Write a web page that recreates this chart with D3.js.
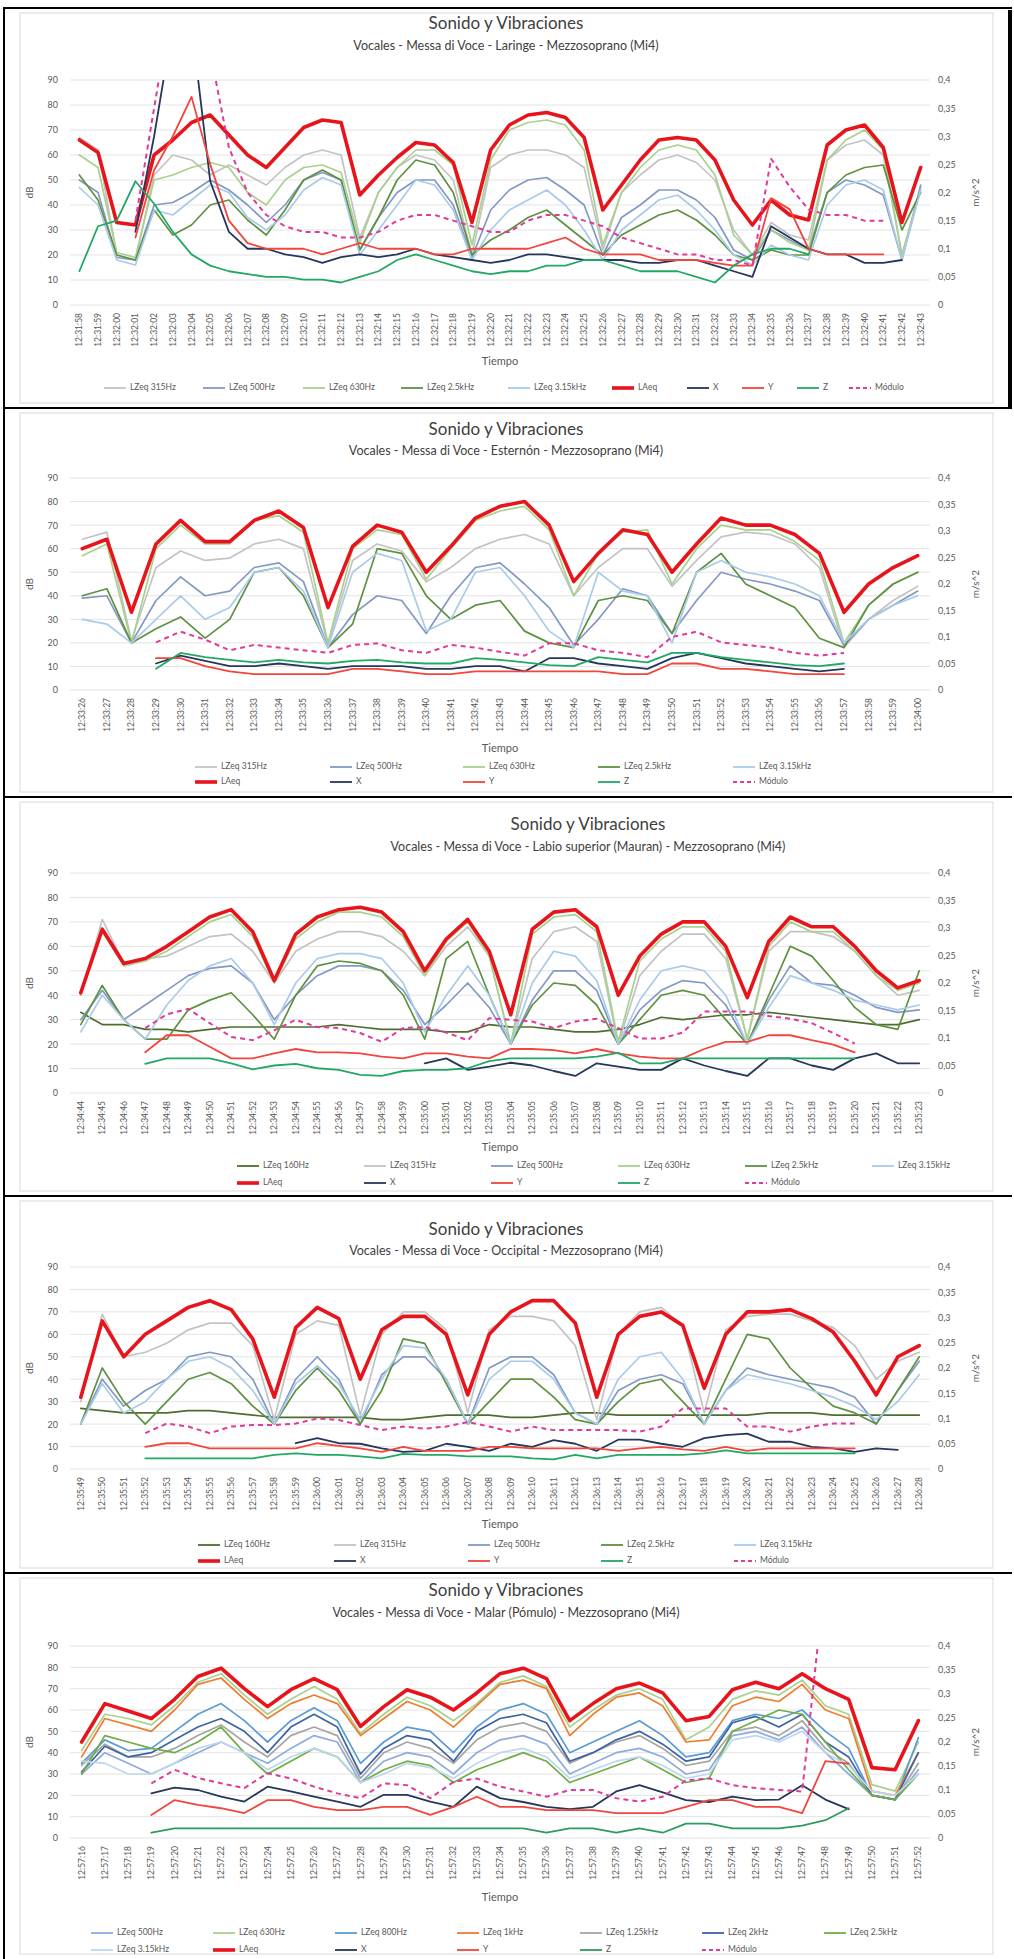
<!DOCTYPE html>
<html><head><meta charset="utf-8">
<script src="https://cdn.jsdelivr.net/npm/d3@7/dist/d3.min.js"></script>
<style>html,body{margin:0;padding:0;background:#fff}</style>
</head><body>
<svg id="chart" width="1014" height="1959" xmlns="http://www.w3.org/2000/svg"></svg>
<script>
// ---------------- DATA ----------------
const p1Times = ["12:31:58","12:31:59","12:32:00","12:32:01","12:32:02","12:32:03","12:32:04","12:32:05","12:32:06","12:32:07","12:32:08","12:32:09","12:32:10","12:32:11","12:32:12","12:32:13","12:32:14","12:32:15","12:32:16","12:32:17","12:32:18","12:32:19","12:32:20","12:32:21","12:32:22","12:32:23","12:32:24","12:32:25","12:32:26","12:32:27","12:32:28","12:32:29","12:32:30","12:32:31","12:32:32","12:32:33","12:32:34","12:32:35","12:32:36","12:32:37","12:32:38","12:32:39","12:32:40","12:32:41","12:32:42","12:32:43"];
const p1_L315  = [67,62,20,18,52,60,58,52,56,52,48,55,60,62,60,27,45,55,60,58,50,20,55,60,62,62,60,55,22,45,52,58,60,57,50,30,20,33,28,26,58,64,66,60,20,47];
const p1_L500  = [50,45,19,18,40,41,45,50,46,40,33,40,50,53,50,22,35,45,50,50,40,19,38,46,50,51,46,40,20,35,40,46,46,42,35,22,18,30,26,22,45,50,48,44,18,48];
const p1_L630  = [60,55,21,19,50,52,55,57,55,45,40,50,55,56,53,25,45,55,62,62,56,24,58,70,73,74,72,62,24,45,55,62,64,62,52,28,20,30,25,22,58,66,70,62,20,46];
const p1_L2500 = [52,42,20,18,38,28,32,40,42,34,28,38,50,54,50,22,35,50,58,56,45,20,26,30,35,38,32,26,20,28,32,36,38,34,28,20,18,22,20,20,45,52,55,56,30,45];
const p1_L3150 = [47,40,18,16,38,36,42,48,45,35,30,36,46,51,48,20,30,40,50,48,38,18,30,38,42,46,40,30,18,30,36,42,44,38,30,20,16,24,20,18,40,48,50,46,18,46];
const p1_LAeq  = [66,61,33,32,60,66,73,76,68,60,55,63,71,74,73,44,52,59,65,64,57,33,62,72,76,77,75,67,38,48,58,66,67,66,58,42,32,42,36,34,64,70,72,63,33,55];
const p1_X = [null,null,null,0.13,0.3,0.5,0.5,0.22,0.13,0.1,0.1,0.09,0.085,0.075,0.085,0.09,0.085,0.09,0.1,0.09,0.085,0.08,0.075,0.08,0.09,0.09,0.085,0.08,0.08,0.08,0.075,0.075,0.08,0.08,0.07,0.06,0.05,0.14,0.12,0.1,0.09,0.09,0.075,0.075,0.08,null];
const p1_Y = [null,null,null,0.12,0.24,0.3,0.37,0.25,0.15,0.11,0.1,0.1,0.1,0.09,0.1,0.11,0.1,0.1,0.1,0.09,0.09,0.1,0.1,0.1,0.1,0.11,0.12,0.1,0.09,0.09,0.09,0.08,0.08,0.08,0.075,0.07,0.07,0.19,0.17,0.1,0.09,0.09,0.09,0.09,null,null];
const p1_Z = [0.06,0.14,0.15,0.22,0.18,0.13,0.09,0.07,0.06,0.055,0.05,0.05,0.045,0.045,0.04,0.05,0.06,0.08,0.09,0.08,0.07,0.06,0.055,0.06,0.06,0.07,0.07,0.08,0.08,0.07,0.06,0.06,0.06,0.05,0.04,0.07,0.09,0.1,0.1,0.09,null,null,null,null,null,null];
const p1_Mod = [null,null,null,0.15,0.35,0.55,0.6,0.45,0.28,0.2,0.16,0.14,0.13,0.13,0.12,0.12,0.13,0.15,0.16,0.16,0.15,0.14,0.13,0.13,0.15,0.16,0.16,0.15,0.14,0.12,0.11,0.1,0.09,0.09,0.08,0.08,0.07,0.26,0.21,0.17,0.16,0.16,0.15,0.15,null,null];

const p2Times = ["12:33:26","12:33:27","12:33:28","12:33:29","12:33:30","12:33:31","12:33:32","12:33:33","12:33:34","12:33:35","12:33:36","12:33:37","12:33:38","12:33:39","12:33:40","12:33:41","12:33:42","12:33:43","12:33:44","12:33:45","12:33:46","12:33:47","12:33:48","12:33:49","12:33:50","12:33:51","12:33:52","12:33:53","12:33:54","12:33:55","12:33:56","12:33:57","12:33:58","12:33:59","12:34:00"];
const p2_L315  = [64,67,21,52,59,55,56,62,64,60,19,55,62,59,46,52,60,64,66,62,40,52,60,60,44,55,65,67,66,62,52,18,30,38,44];
const p2_L500  = [39,40,20,38,48,40,42,52,54,46,18,32,40,38,24,40,52,54,45,35,19,30,43,40,24,38,50,47,45,42,38,19,30,36,42];
const p2_L630  = [57,62,20,60,70,62,62,72,74,67,20,60,68,66,47,60,72,76,78,68,40,58,67,68,45,60,70,68,68,63,55,20,36,45,50];
const p2_L2500 = [40,43,20,26,31,22,30,50,52,40,18,28,60,58,40,30,36,38,25,20,18,38,40,38,24,50,58,45,40,35,22,18,36,45,50];
const p2_L3150 = [30,28,20,30,40,30,35,50,52,42,18,50,58,55,25,30,50,52,40,25,18,50,42,40,20,50,55,50,48,45,40,20,30,36,40];
const p2_LAeq  = [60,64,33,62,72,63,63,72,76,69,35,61,70,67,50,61,73,78,80,70,46,58,68,66,50,62,73,70,70,66,58,33,45,52,57];
const p2_X = [null,null,null,0.05,0.065,0.055,0.045,0.045,0.05,0.045,0.04,0.045,0.045,0.045,0.04,0.04,0.045,0.045,0.035,0.06,0.06,0.05,0.045,0.04,0.06,0.07,0.06,0.05,0.045,0.04,0.035,0.04,null,null,null];
const p2_Y = [null,null,null,0.06,0.06,0.045,0.035,0.03,0.03,0.03,0.03,0.04,0.04,0.035,0.03,0.03,0.035,0.035,0.035,0.035,0.035,0.035,0.03,0.03,0.05,0.05,0.04,0.04,0.035,0.03,0.03,0.03,null,null,null];
const p2_Z = [null,null,null,0.04,0.07,0.062,0.057,0.052,0.057,0.052,0.05,0.055,0.057,0.052,0.05,0.05,0.06,0.057,0.052,0.047,0.045,0.062,0.057,0.052,0.07,0.07,0.062,0.057,0.052,0.047,0.045,0.05,null,null,null];
const p2_Mod = [null,null,null,0.09,0.11,0.095,0.075,0.085,0.08,0.075,0.07,0.085,0.088,0.075,0.07,0.085,0.08,0.072,0.065,0.088,0.088,0.075,0.07,0.062,0.1,0.11,0.09,0.085,0.08,0.07,0.065,0.07,null,null,null];

const p3Times = ["12:34:44","12:34:45","12:34:46","12:34:47","12:34:48","12:34:49","12:34:50","12:34:51","12:34:52","12:34:53","12:34:54","12:34:55","12:34:56","12:34:57","12:34:58","12:34:59","12:35:00","12:35:01","12:35:02","12:35:03","12:35:04","12:35:05","12:35:06","12:35:07","12:35:08","12:35:09","12:35:10","12:35:11","12:35:12","12:35:13","12:35:14","12:35:15","12:35:16","12:35:17","12:35:18","12:35:19","12:35:20","12:35:21","12:35:22","12:35:23"];
const p3_L160  = [33,28,28,26,26,25,26,27,27,27,27,27,28,27,26,26,26,25,25,28,27,27,26,25,25,26,28,31,30,31,32,32,33,32,31,30,29,28,28,30];
const p3_L315  = [40,71,53,55,56,60,64,65,58,45,58,63,66,66,64,58,48,60,68,56,20,55,66,68,62,20,48,58,65,65,55,22,58,66,66,64,58,48,40,42];
const p3_L500  = [30,42,30,36,42,48,51,52,45,30,40,48,52,52,50,42,28,36,45,35,20,38,50,50,42,20,34,42,46,45,36,20,38,52,45,44,40,35,33,34];
const p3_L630  = [40,66,52,54,58,64,70,73,64,45,63,70,74,74,72,64,48,62,70,56,20,65,72,73,66,21,54,63,68,68,58,22,60,70,66,66,58,48,42,45];
const p3_L2500 = [28,44,30,22,22,34,38,41,32,22,40,52,54,53,50,40,22,55,62,40,20,36,45,44,36,20,30,40,42,40,30,20,40,60,56,46,35,28,26,50];
const p3_L3150 = [25,40,30,22,36,46,52,55,45,28,45,55,57,57,55,45,25,40,52,40,20,45,58,56,46,20,38,50,52,50,40,20,35,48,45,42,38,36,34,36];
const p3_LAeq  = [41,67,53,55,60,66,72,75,66,46,65,72,75,76,74,66,50,63,71,58,32,67,74,75,68,40,56,65,70,70,60,39,62,72,68,68,60,50,43,46];
const p3_X = [null,null,null,null,null,null,null,null,null,null,null,null,null,null,null,null,0.054,0.063,0.042,0.048,0.055,0.05,0.04,0.031,0.054,0.048,0.042,0.042,0.063,0.05,0.04,0.031,0.063,0.063,0.05,0.042,0.063,0.072,0.054,0.054];
const p3_Y = [null,null,null,0.074,0.105,0.105,0.084,0.063,0.063,0.072,0.08,0.074,0.074,0.072,0.066,0.063,0.072,0.072,0.066,0.063,0.08,0.08,0.078,0.072,0.08,0.072,0.066,0.063,0.063,0.08,0.093,0.093,0.105,0.105,0.096,0.088,0.074,null,null,null];
const p3_Z = [null,null,null,0.053,0.063,0.063,0.063,0.054,0.043,0.05,0.053,0.045,0.042,0.033,0.031,0.04,0.042,0.042,0.045,0.058,0.063,0.063,0.063,0.063,0.066,0.073,0.054,0.054,0.063,0.063,0.063,0.063,0.063,0.063,0.063,0.063,0.063,null,null,null];
const p3_Mod = [null,null,null,0.118,0.143,0.153,0.127,0.102,0.096,0.114,0.133,0.12,0.118,0.109,0.093,0.118,0.12,0.11,0.096,0.136,0.133,0.13,0.118,0.13,0.135,0.118,0.099,0.099,0.11,0.148,0.148,0.148,0.14,0.135,0.127,0.109,0.09,null,null,null];

const p4Times = ["12:35:49","12:35:50","12:35:51","12:35:52","12:35:53","12:35:54","12:35:55","12:35:56","12:35:57","12:35:58","12:35:59","12:36:00","12:36:01","12:36:02","12:36:03","12:36:04","12:36:05","12:36:06","12:36:07","12:36:08","12:36:09","12:36:10","12:36:11","12:36:12","12:36:13","12:36:14","12:36:15","12:36:16","12:36:17","12:36:18","12:36:19","12:36:20","12:36:21","12:36:22","12:36:23","12:36:24","12:36:25","12:36:26","12:36:27","12:36:28"];
const p4_L160  = [27,26,25,25,25,26,26,25,24,23,23,23,23,23,22,22,23,24,24,24,23,23,24,25,25,24,24,24,24,24,24,24,25,25,25,24,24,24,24,24];
const p4_L315  = [30,69,50,52,56,62,65,65,55,22,60,66,64,24,60,70,70,62,25,62,68,68,66,55,22,60,70,72,64,25,62,68,69,69,66,63,55,40,48,52];
const p4_L500  = [20,40,28,35,40,50,52,50,40,20,40,50,40,20,42,50,50,40,20,45,50,50,42,25,20,35,40,42,38,20,35,45,42,40,38,36,32,20,35,48];
const p4_L2500 = [20,45,30,20,30,40,43,38,28,20,35,45,35,20,35,58,56,38,20,30,40,40,32,22,20,30,38,40,30,20,40,60,58,45,36,28,25,20,35,50];
const p4_L3150 = [20,38,25,30,40,48,50,45,35,20,38,46,38,22,40,55,54,40,20,40,48,48,40,25,20,40,50,52,40,20,35,42,40,38,35,32,28,22,30,42];
const p4_LAeq  = [32,66,50,60,66,72,75,71,58,32,63,72,67,40,62,68,68,60,33,60,70,75,75,65,32,60,68,70,64,36,60,70,70,71,67,61,48,33,50,55];
const p4_X = [null,null,null,null,null,null,null,null,null,null,0.051,0.061,0.051,0.05,0.041,0.034,0.036,0.05,0.044,0.036,0.05,0.044,0.057,0.05,0.036,0.058,0.058,0.05,0.044,0.061,0.067,0.07,0.054,0.054,0.044,0.041,0.034,0.041,0.038,null];
const p4_Y = [null,null,null,0.044,0.051,0.051,0.041,0.041,0.041,0.041,0.041,0.051,0.046,0.041,0.034,0.044,0.036,0.036,0.036,0.044,0.044,0.041,0.041,0.041,0.041,0.036,0.041,0.044,0.039,0.036,0.044,0.036,0.041,0.041,0.041,0.041,0.041,null,null,null];
const p4_Z = [null,null,null,0.021,0.021,0.021,0.021,0.021,0.021,0.028,0.031,0.028,0.028,0.025,0.021,0.03,0.028,0.028,0.025,0.025,0.025,0.021,0.019,0.028,0.021,0.028,0.028,0.028,0.028,0.031,0.037,0.031,0.031,0.031,0.031,0.031,0.031,null,null,null];
const p4_Mod = [null,null,null,0.071,0.09,0.084,0.071,0.084,0.087,0.087,0.09,0.1,0.097,0.087,0.077,0.084,0.08,0.084,0.093,0.084,0.074,0.084,0.077,0.077,0.077,0.077,0.074,0.084,0.12,0.12,0.12,0.084,0.084,0.074,0.084,0.09,0.09,null,null,null];

const p5Times = ["12:57:16","12:57:17","12:57:18","12:57:19","12:57:20","12:57:21","12:57:22","12:57:23","12:57:24","12:57:25","12:57:26","12:57:27","12:57:28","12:57:29","12:57:30","12:57:31","12:57:32","12:57:33","12:57:34","12:57:35","12:57:36","12:57:37","12:57:38","12:57:39","12:57:40","12:57:41","12:57:42","12:57:43","12:57:44","12:57:45","12:57:46","12:57:47","12:57:48","12:57:49","12:57:50","12:57:51","12:57:52"];
const p5_L500  = [30,40,35,30,35,40,45,40,35,42,48,45,26,36,40,38,30,40,46,48,44,30,35,40,42,38,30,32,48,50,46,52,40,30,20,18,32];
const p5_L630  = [41,58,56,53,62,73,77,67,58,65,71,65,49,58,66,62,55,63,73,76,71,52,60,67,70,65,46,52,65,69,67,74,62,58,25,22,45];
const p5_L800  = [35,46,41,42,50,58,63,55,45,55,61,55,35,45,52,50,40,52,60,63,58,40,45,50,55,48,38,40,55,58,56,60,50,42,20,18,47];
const p5_L1k   = [38,56,53,50,60,72,75,65,56,63,67,63,48,56,64,60,52,62,72,74,70,48,58,66,68,62,45,46,62,66,64,72,60,56,22,20,40];
const p5_L1250 = [34,44,38,38,42,48,53,45,38,48,52,48,28,40,45,42,35,46,52,54,50,35,40,45,48,42,34,36,50,52,48,55,42,35,20,18,35];
const p5_L2k   = [31,43,38,40,46,52,56,50,40,52,58,52,30,42,48,46,36,50,56,58,54,36,40,46,50,44,36,38,54,57,52,58,45,38,20,18,40];
const p5_L2500 = [30,48,45,42,40,45,52,40,30,36,42,38,26,32,36,34,26,32,36,40,36,26,30,34,38,32,26,28,50,55,60,58,45,32,20,18,30];
const p5_L3150 = [36,35,30,30,35,42,45,40,32,38,42,38,26,30,35,33,28,35,40,42,38,28,32,36,38,34,28,30,46,48,45,50,40,34,22,20,30];
const p5_LAeq  = [45,63,59.5,56,65,75.7,79.6,70,61.6,69.5,74.7,69.5,52.3,61.6,69.5,66,60,68,77,79.6,74.7,55,63,70,72.6,68,55,57,69.5,73,70,77,70,65,33,32,55];
const p5_X = [null,null,null,0.093,0.105,0.1,0.086,0.076,0.107,0.097,0.086,0.076,0.065,0.09,0.09,0.076,0.065,0.107,0.083,0.075,0.065,0.06,0.065,0.097,0.11,0.095,0.079,0.075,0.086,0.079,0.08,0.11,0.08,0.06,null,null,null];
const p5_Y = [null,null,null,0.048,0.079,0.069,0.062,0.052,0.079,0.079,0.065,0.058,0.058,0.065,0.065,0.048,0.065,0.086,0.065,0.065,0.058,0.058,0.058,0.052,0.052,0.052,0.065,0.079,0.079,0.065,0.065,0.052,0.16,0.155,null,null,null];
const p5_Z = [null,null,null,0.011,0.02,0.02,0.02,0.02,0.02,0.02,0.02,0.02,0.02,0.02,0.02,0.02,0.02,0.02,0.02,0.02,0.011,0.02,0.02,0.011,0.02,0.011,0.03,0.03,0.02,0.02,0.02,0.026,0.037,0.062,null,null,null];
const p5_Mod = [null,null,null,0.114,0.142,0.125,0.114,0.104,0.135,0.124,0.107,0.093,0.083,0.114,0.11,0.083,0.117,0.124,0.107,0.097,0.086,0.1,0.1,0.083,0.076,0.086,0.12,0.124,0.11,0.104,0.1,0.097,0.55,null,null,null,null];

const dBTicks = [0,10,20,30,40,50,60,70,80,90];
const msTicks = [0,0.05,0.1,0.15,0.2,0.25,0.3,0.35,0.4];

// ---------------- STYLE ----------------
const FONT = "Lato, 'Open Sans', 'Liberation Sans', Arial, sans-serif";
const COL = {
  L160:"#4f6d2f", L315:"#c3c3c3", L500:"#8399c4", L630:"#a9d18e", L2500:"#5f9140", L3150:"#a9cbe9",
  LAeq:"#e8141b", X:"#25375a", Y:"#f2453d", Z:"#22a865", Mod:"#e03a9c",
  P5L500:"#8faadc", P5L800:"#5b9bd5", P5L1k:"#ed7d31", P5L1250:"#a5a5a5", P5L2k:"#3d64a0", P5L2500:"#70ad47", P5L3150:"#bdd7ee", P5Z:"#2e9a5e"
};
const svg = d3.select("#chart");
const X0 = 70, X1 = 930;

function S(name, data, color, axis, opts){ return Object.assign({name, data, color, axis, w:1.7, dash:null}, opts||{}); }
function vib(X,Y,Z,M,zc){ return [
  S("X", X, COL.X, "R", {w:1.8}),
  S("Y", Y, COL.Y, "R", {w:1.8}),
  S("Z", Z, zc||COL.Z, "R", {w:1.8}),
  S("Módulo", M, COL.Mod, "R", {w:2, dash:"5,4"})
];}
const LA = d => S("LAeq", d, COL.LAeq, "L", {w:3.6});

const panels = [
 { top:8, bottom:408, title:"Sonido y Vibraciones", sub:"Vocales - Messa di Voce - Laringe - Mezzosoprano (Mi4)", tx:506,
   ty:25, sy:47, y90:80, y0:305, tiempo:362, times:p1Times,
   series:[S("LZeq 315Hz",p1_L315,COL.L315,"L"),S("LZeq 500Hz",p1_L500,COL.L500,"L"),S("LZeq 630Hz",p1_L630,COL.L630,"L"),
           S("LZeq 2.5kHz",p1_L2500,COL.L2500,"L"),S("LZeq 3.15kHz",p1_L3150,COL.L3150,"L"),LA(p1_LAeq),...vib(p1_X,p1_Y,p1_Z,p1_Mod)],
   legend:{cols:[104,203,303,401,508,612,687,742,797,849], rows:[388], perRow:10} },
 { top:408, bottom:797, title:"Sonido y Vibraciones", sub:"Vocales - Messa di Voce - Esternón - Mezzosoprano (Mi4)", tx:506,
   ty:431, sy:452, y90:478, y0:690, tiempo:749, times:p2Times,
   series:[S("LZeq 315Hz",p2_L315,COL.L315,"L"),S("LZeq 500Hz",p2_L500,COL.L500,"L"),S("LZeq 630Hz",p2_L630,COL.L630,"L"),
           S("LZeq 2.5kHz",p2_L2500,COL.L2500,"L"),S("LZeq 3.15kHz",p2_L3150,COL.L3150,"L"),LA(p2_LAeq),...vib(p2_X,p2_Y,p2_Z,p2_Mod)],
   legend:{cols:[195,330,463,598,733], rows:[767,782], perRow:5} },
 { top:797, bottom:1196, title:"Sonido y Vibraciones", sub:"Vocales - Messa di Voce - Labio superior (Mauran) - Mezzosoprano (Mi4)", tx:588,
   ty:826, sy:848, y90:873, y0:1093, tiempo:1148, times:p3Times,
   series:[S("LZeq 160Hz",p3_L160,COL.L160,"L"),S("LZeq 315Hz",p3_L315,COL.L315,"L"),S("LZeq 500Hz",p3_L500,COL.L500,"L"),S("LZeq 630Hz",p3_L630,COL.L630,"L"),
           S("LZeq 2.5kHz",p3_L2500,COL.L2500,"L"),S("LZeq 3.15kHz",p3_L3150,COL.L3150,"L"),LA(p3_LAeq),...vib(p3_X,p3_Y,p3_Z,p3_Mod)],
   legend:{cols:[237,364,491,618,745,872], rows:[1166,1183], perRow:6} },
 { top:1196, bottom:1573, title:"Sonido y Vibraciones", sub:"Vocales - Messa di Voce - Occipital - Mezzosoprano (Mi4)", tx:506,
   ty:1231, sy:1252, y90:1267, y0:1469, tiempo:1525, times:p4Times,
   series:[S("LZeq 160Hz",p4_L160,COL.L160,"L"),S("LZeq 315Hz",p4_L315,COL.L315,"L"),S("LZeq 500Hz",p4_L500,COL.L500,"L"),
           S("LZeq 2.5kHz",p4_L2500,COL.L2500,"L"),S("LZeq 3.15kHz",p4_L3150,COL.L3150,"L"),LA(p4_LAeq),...vib(p4_X,p4_Y,p4_Z,p4_Mod)],
   legend:{cols:[198,334,468,601,734], rows:[1545,1561], perRow:5} },
 { top:1573, bottom:1959, title:"Sonido y Vibraciones", sub:"Vocales - Messa di Voce - Malar (Pómulo) - Mezzosoprano (Mi4)", tx:506,
   ty:1592, sy:1614, y90:1646, y0:1838, tiempo:1898, times:p5Times,
   series:[S("LZeq 500Hz",p5_L500,COL.P5L500,"L"),S("LZeq 630Hz",p5_L630,COL.L630,"L"),S("LZeq 800Hz",p5_L800,COL.P5L800,"L"),
           S("LZeq 1kHz",p5_L1k,COL.P5L1k,"L"),S("LZeq 1.25kHz",p5_L1250,COL.P5L1250,"L"),S("LZeq 2kHz",p5_L2k,COL.P5L2k,"L"),
           S("LZeq 2.5kHz",p5_L2500,COL.P5L2500,"L"),S("LZeq 3.15kHz",p5_L3150,COL.P5L3150,"L"),LA(p5_LAeq),...vib(p5_X,p5_Y,p5_Z,p5_Mod,COL.P5Z)],
   legend:{cols:[91,213,335,457,580,702,824], rows:[1933,1950], perRow:7} }
];

// ---------------- DRAW ----------------
const fmtMs = d => d === 0 ? "0" : String(+d.toFixed(2)).replace(".", ",");

panels.forEach((p, pi) => {
  const g = svg.append("g");
  const x = d3.scaleBand().domain(p.times).range([X0, X1]);
  const xc = t => x(t) + x.bandwidth() / 2;
  const yL = d3.scaleLinear().domain([0, 90]).range([p.y0, p.y90]);
  const yR = d3.scaleLinear().domain([0, 0.4]).range([p.y0, p.y90]);

  g.append("rect").attr("x", 20).attr("y", p.top + 5).attr("width", 973).attr("height", p.bottom - p.top - 10)
    .attr("fill", "#fff").attr("stroke", "#d9d9d9").attr("stroke-width", 1);

  g.append("text").attr("x", p.tx).attr("y", p.ty).attr("text-anchor", "middle").attr("dominant-baseline", "middle")
    .attr("font-family", FONT).attr("font-size", 17).attr("fill", "#404040").text(p.title);
  g.append("text").attr("x", p.tx).attr("y", p.sy).attr("text-anchor", "middle").attr("dominant-baseline", "middle")
    .attr("font-family", FONT).attr("font-size", 12.5).attr("fill", "#404040").text(p.sub);

  g.append("g").selectAll("line").data(dBTicks).join("line")
    .attr("x1", X0).attr("x2", X1).attr("y1", d => yL(d)).attr("y2", d => yL(d))
    .attr("stroke", "#e3e3e3").attr("stroke-width", 1);

  const axL = g.append("g").attr("transform", `translate(58,0)`)
    .call(d3.axisLeft(yL).tickValues(dBTicks).tickSize(0).tickPadding(0));
  axL.select(".domain").remove();
  axL.selectAll("text").attr("font-family", FONT).attr("font-size", 9).attr("fill", "#595959");

  const axR = g.append("g").attr("transform", `translate(938,0)`)
    .call(d3.axisRight(yR).tickValues(msTicks).tickFormat(fmtMs).tickSize(0).tickPadding(0));
  axR.select(".domain").remove();
  axR.selectAll("text").attr("font-family", FONT).attr("font-size", 9).attr("fill", "#595959");

  const axX = g.append("g").attr("transform", `translate(0,${p.y0})`)
    .call(d3.axisBottom(x).tickSize(0).tickPadding(0));
  axX.select(".domain").remove();
  axX.selectAll("text").attr("transform", "rotate(-90)").attr("text-anchor", "end")
    .attr("x", -8).attr("y", 0).attr("dy", "0.35em")
    .attr("font-family", FONT).attr("font-size", 8.5).attr("fill", "#595959");

  const mid = (p.y0 + p.y90) / 2;
  g.append("text").attr("transform", `translate(30,${mid}) rotate(-90)`).attr("text-anchor", "middle").attr("dominant-baseline", "middle")
    .attr("font-family", FONT).attr("font-size", 10).attr("fill", "#595959").text("dB");
  g.append("text").attr("transform", `translate(976,${mid}) rotate(-90)`).attr("text-anchor", "middle").attr("dominant-baseline", "middle")
    .attr("font-family", FONT).attr("font-size", 10).attr("fill", "#595959").text("m/s^2");
  g.append("text").attr("x", (X0 + X1) / 2).attr("y", p.tiempo).attr("text-anchor", "middle").attr("dominant-baseline", "middle")
    .attr("font-family", FONT).attr("font-size", 11).attr("fill", "#595959").text("Tiempo");

  const cid = "clip" + pi;
  svg.append("clipPath").attr("id", cid).append("rect")
    .attr("x", X0).attr("y", p.y90).attr("width", X1 - X0).attr("height", p.y0 - p.y90);
  const plot = g.append("g").attr("clip-path", `url(#${cid})`);

  p.series.forEach(s => {
    const ys = s.axis === "L" ? yL : yR;
    const line = d3.line().defined(d => d[1] != null).x(d => xc(d[0])).y(d => ys(d[1]));
    plot.append("path").datum(p.times.map((t, i) => [t, s.data[i]]))
      .attr("d", line).attr("fill", "none").attr("stroke", s.color).attr("stroke-width", s.w)
      .attr("stroke-linejoin", "round").attr("stroke-linecap", s.dash ? "butt" : "round")
      .attr("stroke-dasharray", s.dash);
  });

  const L = p.legend;
  p.series.forEach((s, i) => {
    const r = Math.floor(i / L.perRow), c = i % L.perRow;
    const it = g.append("g").attr("transform", `translate(${L.cols[c]},${L.rows[r]})`);
    it.append("line").attr("x1", 0).attr("x2", 22).attr("y1", 0).attr("y2", 0)
      .attr("stroke", s.color).attr("stroke-width", s.name === "LAeq" ? 3.6 : (s.dash ? 2 : 1.8))
      .attr("stroke-dasharray", s.dash ? "4,3" : null);
    it.append("text").attr("x", 26).attr("y", 0).attr("dominant-baseline", "middle")
      .attr("font-family", FONT).attr("font-size", 8.5).attr("fill", "#595959").text(s.name);
  });
});

// table borders
const hLines = [8, 408, 797, 1196, 1573];
svg.append("g").selectAll("line").data(hLines).join("line")
  .attr("x1", 3).attr("x2", 1012).attr("y1", d => d).attr("y2", d => d)
  .attr("stroke", "#000").attr("stroke-width", 2);
svg.append("line").attr("x1", 4).attr("x2", 4).attr("y1", 7).attr("y2", 1959).attr("stroke", "#000").attr("stroke-width", 2);
svg.append("line").attr("x1", 1010).attr("x2", 1010).attr("y1", 10).attr("y2", 408).attr("stroke", "#000").attr("stroke-width", 4);
</script></body></html>
